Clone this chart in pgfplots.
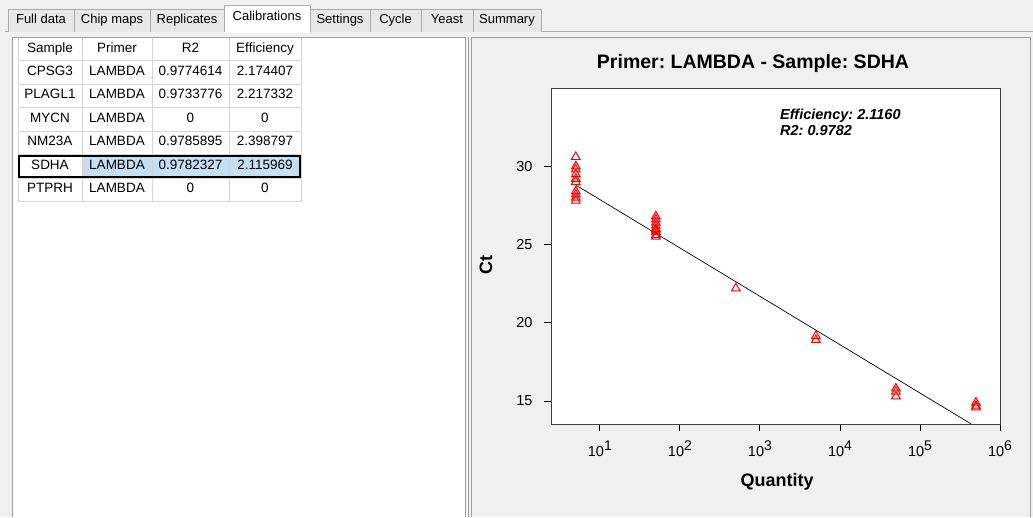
\documentclass[border=0pt]{standalone}
\usepackage{fontspec}
\setmainfont{Liberation Sans}
\setsansfont{Liberation Sans}
\usepackage{pgfplots}
\pgfplotsset{compat=1.18}
\frenchspacing
\definecolor{panelbg}{HTML}{F0F0F0}
\definecolor{tabborder}{HTML}{ACACAC}
\definecolor{tabfill}{HTML}{E8E8E8}
\definecolor{gridc}{HTML}{D5D5D5}
\definecolor{selblue}{HTML}{C4DEF5}
\definecolor{paneborder}{HTML}{A0A0A0}
\newcommand\uifont{\fontsize{13.5}{15}\selectfont}
\newcommand\tabfont{\fontsize{13}{14}\selectfont}
\newcommand\sups[1]{\raisebox{0.42em}{\fontsize{14}{14}\selectfont #1}}
\begin{document}
\begin{tikzpicture}
\useasboundingbox (0,0) rectangle (1033pt,-517pt);
\begin{scope}[x=1pt,y=-1pt]
  \fill[panelbg] (0,0) rectangle (1033,517);
  % content frame
  \draw[tabborder] (5,31.5) -- (1033,31.5);
  % unselected tabs
  \foreach \a/\b/\t in {8/74/Full data,74/150/Chip maps,150/224/Replicates,310/370/Settings,370/421/Cycle,421/473/Yeast,473/541/Summary}{
    \fill[tabfill] (\a,9) rectangle (\b,31.5);
    \draw[tabborder] (\a,31.5) -- (\a,9) -- (\b,9) -- (\b,31.5);
    \node[font=\tabfont, anchor=center] at ({(\a+\b)/2},20.5) {\strut\t};
  }
  % selected tab
  \fill[white] (224,5) rectangle (310,32.5);
  \draw[tabborder] (224,32) -- (224,5) -- (310,5) -- (310,32);
  \node[font=\tabfont] at (267,17.5) {\strut Calibrations};
  % left pane
  \fill[white] (12.5,37) rectangle (465,517);
  \draw[paneborder] (12.5,517) -- (12.5,37) -- (465,37) -- (465,517);
  % splitter
  \draw[paneborder] (468,37) -- (468,517);
  % right pane
  \draw[paneborder] (471.5,517) -- (471.5,37) -- (1030.5,37) -- (1030.5,517);
  % table
  \fill[white] (18,38) rectangle (301,201.5);
  \fill[selblue] (82,154.5) rectangle (301,178);
  \foreach \y in {60,84,107.5,131,154.5,178,201.5}{
    \draw[gridc] (18,\y) -- (301,\y);
  }
  \foreach \x in {82,152,229,301}{
    \draw[gridc] (\x,38) -- (\x,201.5);
  }
  \draw[gridc] (18,38) -- (18,201.5);
  \foreach \x/\t in {50/Sample,117/Primer,190.5/R2,265/Efficiency}{
    \node[font=\uifont] at (\x,49) {\strut\t};
  }
  \foreach \yc/\s/\r/\e in {72/CPSG3/0.9774614/2.174407,95.7/PLAGL1/0.9733776/2.217332,119.2/MYCN/0/0,142.7/NM23A/0.9785895/2.398797,166.2/SDHA/0.9782327/2.115969,189.7/PTPRH/0/0}{
    \node[font=\uifont] at (50,\yc) {\strut\s};
    \node[font=\uifont] at (117,\yc) {\strut LAMBDA};
    \node[font=\uifont] at (190.5,\yc) {\strut\r};
    \node[font=\uifont] at (265,\yc) {\strut\e};
  }
  \draw[black, line width=2pt] (19,155.5) rectangle (300,177);
  % chart texts
  \node[font=\fontsize{19.5}{21}\bfseries\selectfont] at (753,63) {Primer: LAMBDA - Sample: SDHA};
  \node[font=\fontsize{18}{20}\bfseries\selectfont] at (777,482) {Quantity};
  \node[font=\fontsize{18}{20}\bfseries\selectfont, rotate=90] at (486,265) {Ct};
\end{scope}
\begin{axis}[
  at={(551pt,-424pt)}, anchor=south west,
  scale only axis, width=449pt, height=336pt,
  xmode=log, xmin=2.45, xmax=1e6, ymin=13.53, ymax=35,
  axis background/.style={fill=white},
  axis line style={draw=black!75, line width=0.9pt},
  tick align=outside, xtick pos=bottom, ytick pos=left,
  major tick length=7pt,
  xminorticks=false,
  tick style={black, line width=0.9pt},
  xtick={10,100,1000,10000,100000,1000000},
  xticklabels={10\sups{1},10\sups{2},10\sups{3},10\sups{4},10\sups{5},10\sups{6}},
  ytick={15,20,25,30},
  /pgf/number format/assume math mode=true,
  ticklabel style={font=\fontsize{14.5}{16}\selectfont},
  xticklabel style={yshift=-6pt},
  yticklabel style={xshift=-8pt},
]
\addplot[only marks, mark=triangle, mark size=5pt, red, mark options={line width=1pt}] coordinates {
  (5,30.6) (5,30.0) (5,29.8) (5,29.5) (5,29.2) (5,29.0) (5,28.4) (5,28.2) (5,28.0) (5,27.8)
  (50,26.8) (50,26.6) (50,26.4) (50,26.2) (50,26.0) (50,25.9) (50,25.8) (50,25.6) (50,25.5)
  (500,22.2)
  (5000,19.15) (5000,18.9)
  (50000,15.8) (50000,15.6) (50000,15.3)
  (500000,14.9) (500000,14.7) (500000,14.6)
};
\addplot[black, line width=0.7pt] coordinates {(5,28.8) (4.37e5,13.53)};
\end{axis}
\begin{scope}[x=1pt,y=-1pt]
  \node[font=\fontsize{14.5}{16}\bfseries\itshape\selectfont, anchor=west, align=left, inner sep=0pt] at (780,122) {Efficiency: 2.1160\\R2: 0.9782};
\end{scope}
\end{tikzpicture}
\end{document}
